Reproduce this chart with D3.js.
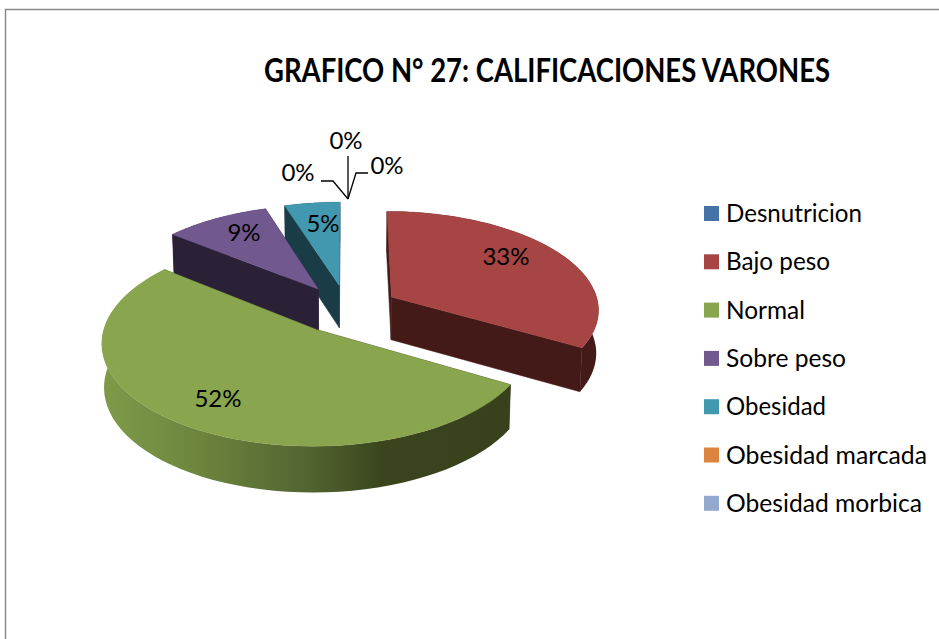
<!DOCTYPE html>
<html><head><meta charset="utf-8">
<script src="https://cdn.jsdelivr.net/npm/d3@7"></script>
<style>html,body{margin:0;padding:0;background:#fff;overflow:hidden}svg{display:block}text{font-family:Lato,"Open Sans",sans-serif;fill:#000}</style>
</head><body><svg id="c" width="939" height="639"></svg>
<script>
const titleText = "GRAFICO N° 27: CALIFICACIONES VARONES";
const categories = ["Desnutricion","Bajo peso","Normal","Sobre peso","Obesidad","Obesidad marcada","Obesidad morbica"];
const values = [0, 33.4, 52.4, 9.3, 4.9, 0, 0];
const topColors = ["#4572A7","#A64543","#89A54E","#71588F","#4198AF","#DB843D","#93A9CF"];
const wallColors = ["#1F3350","#431A18","#37421C","#2B2137","#1A3C46","#6B3E1A","#46506A"];
const legendWidths = [136,104,79,120,100,201,196];
// label anchors for each category (layout)
const labelPos = [[298,171],[506,255],[218,397],[244,231],[323,222],[346,139],[387,164]];

const svg = d3.select("#c");
const W = 939, H = 639;
svg.append("path").attr("d", d3.line()([[5.5,H],[5.5,9.5],[W,9.5]]))
  .attr("fill","none").attr("stroke","#8a8a8a").attr("stroke-width",1.5);

svg.append("text").text(titleText).attr("x",264).attr("y",82)
  .attr("font-size",32).attr("font-weight",700)
  .attr("textLength",566).attr("lengthAdjust","spacingAndGlyphs");

// projection of the exploded disc
const cx = 347, cy = 309, p = 0.115, depth = 43, baseShrink = 0.991, explode = 0.25;
const xs = d3.scaleLinear().domain([0,1]).range([cx, cx+208]);
const ys = d3.scaleLinear().domain([0,1]).range([cy, cy-98]);
const persp = Z => 1/(1+p*Z);
const topPt = (X,Z) => [xs(X*persp(Z)), ys(Z*persp(Z))];
const basePt = (X,Z) => {
  const s = persp(Z);
  return [cx+(xs(X*s)-cx)*baseShrink, ys(Z*s)+depth*Math.sqrt(s)];
};

const pie = d3.pie().sort(null).value(d=>d).startAngle(0).endAngle(2*Math.PI);
const arcs = pie(values).map((a,i)=>({...a,i}));
const line = d3.line();
const defs = svg.append("defs");
const grad = defs.append("linearGradient").attr("id","greenWall").attr("gradientUnits","userSpaceOnUse")
  .attr("x1",105).attr("x2",511).attr("y1",0).attr("y2",0);
[[0,"#7E9A48"],[0.2,"#6F8840"],[0.5,"#526530"],[0.68,"#3A451E"],[1,"#37421C"]]
  .forEach(([o,c])=>grad.append("stop").attr("offset",o).attr("stop-color",c));

// back-to-front: Obesidad, Sobre peso, Bajo peso, Normal
const order = [4,3,1,2];
const g = svg.append("g");
order.forEach(idx=>{
  const a = arcs[idx];
  const mid = (a.startAngle+a.endAngle)/2;
  const ex = Math.sin(mid)*explode, ez = Math.cos(mid)*explode;
  const angles = d3.range(0,61).map(k=>a.startAngle+(a.endAngle-a.startAngle)*k/60);
  const rim = angles.map(t=>[ex+Math.sin(t), ez+Math.cos(t)]);
  const apex = [ex,ez];
  const T = q=>topPt(q[0],q[1]), B = q=>basePt(q[0],q[1]);
  const wall = wallColors[idx];
  // radial walls
  [rim[0], rim[rim.length-1]].forEach(q=>{
    g.append("path").attr("d",line([T(apex),T(q),B(q),B(apex)])+"Z")
      .attr("fill",wall).attr("stroke",wall).attr("stroke-width",0.5);
  });
  // outer wall
  const outer = idx===2 ? "url(#greenWall)" : wall;
  g.append("path").attr("d",line(rim.map(T).concat(rim.map(B).reverse()))+"Z")
    .attr("fill",outer);
  // top face
  g.append("path").attr("d",line([T(apex),...rim.map(T)])+"Z")
    .attr("fill",topColors[idx]).attr("stroke",topColors[idx]).attr("stroke-width",0.4);
});

// leaders for the empty categories
const hub = [348,199];
[[[321,181],[333,181],hub],[[348,156],hub],[[368,173],[356,173],hub]].forEach(pts=>{
  svg.append("path").attr("d",line(pts)).attr("fill","none").attr("stroke","#000").attr("stroke-width",1.3);
});

// percent labels
const total = d3.sum(values), fmt = d3.format(".0%");
values.forEach((v,i)=>{
  svg.append("text").text(fmt(v/total)).attr("x",labelPos[i][0]).attr("y",labelPos[i][1])
    .attr("text-anchor","middle").attr("dominant-baseline","central").attr("font-size",24);
});

// legend
const ly = d3.scalePoint().domain(categories).range([213.5,503.3]);
categories.forEach((c,i)=>{
  svg.append("rect").attr("x",704).attr("y",ly(c)-7.5).attr("width",15).attr("height",15).attr("fill",topColors[i]);
  svg.append("text").text(c).attr("x",726).attr("y",ly(c)+8.5).attr("font-size",25)
    .attr("textLength",legendWidths[i]).attr("lengthAdjust","spacingAndGlyphs");
});
</script></body></html>
